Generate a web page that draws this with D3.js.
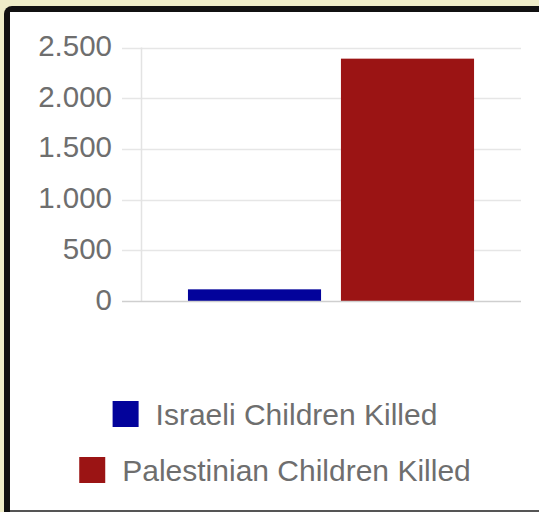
<!DOCTYPE html>
<html>
<head>
<meta charset="utf-8">
<script src="https://cdn.jsdelivr.net/npm/d3@7"></script>
<style>
  html, body { margin: 0; padding: 0; background: #efedc9; }
  svg { display: block; }
</style>
</head>
<body>
<svg id="chart" width="539" height="512"></svg>
<script>
// Data
const categories = [""];
const seriesNames = ["Israeli Children Killed", "Palestinian Children Killed"];
const seriesValues = [115, 2390];
const seriesColors = ["#03039b", "#9b1414"];
const tickValues = [0, 500, 1000, 1500, 2000, 2500];
const tickLabels = ["0", "500", "1.000", "1.500", "2.000", "2.500"];

const W = 539, H = 512;
const svg = d3.select("#chart");
const font = "'Liberation Sans', Arial, sans-serif";
const textColor = "#6e6e6e";

// Frame: yellow page, dark border, white card
svg.append("rect").attr("x", 0).attr("y", 0).attr("width", W).attr("height", H).attr("fill", "#efedc9");
svg.append("rect").attr("x", 4).attr("y", 6).attr("width", W + 20).attr("height", H + 20).attr("rx", 8).attr("fill", "#111");
svg.append("rect").attr("x", 10).attr("y", 12).attr("width", W).attr("height", H - 12).attr("fill", "#fff");
svg.append("rect").attr("x", 10).attr("y", 510).attr("width", W).attr("height", 2).attr("fill", "#555");

// Plot area
const plot = { left: 141, right: 521, top: 47.5, bottom: 301 };

const y = d3.scaleLinear().domain([0, 2500]).range([plot.bottom, plot.top]);
const x0 = d3.scaleBand().domain(categories).range([plot.left, plot.right]).paddingInner(0.141).paddingOuter(0.141);
const x1 = d3.scaleBand().domain(seriesNames).range([0, x0.bandwidth()]).paddingInner(0.13).paddingOuter(0);

// Gridlines
const grid = svg.append("g");
grid.selectAll("line").data(tickValues.filter(v => v > 0)).join("line")
  .attr("x1", 122).attr("x2", plot.right)
  .attr("y1", d => Math.round(y(d)) + 0.5).attr("y2", d => Math.round(y(d)) + 0.5)
  .attr("stroke", "#e6e6e6").attr("stroke-width", 1.5);

// Vertical axis line
svg.append("line")
  .attr("x1", plot.left + 0.5).attr("x2", plot.left + 0.5)
  .attr("y1", y(2500)).attr("y2", plot.bottom)
  .attr("stroke", "#e3e3e3").attr("stroke-width", 1.5);

// Tick labels
svg.append("g").selectAll("text").data(tickValues).join("text")
  .attr("x", 112).attr("y", d => y(d) + 8.5)
  .attr("text-anchor", "end")
  .attr("font-family", font).attr("font-size", 29.5)
  .attr("fill", textColor)
  .text((d, i) => tickLabels[i]);

// Bars
const groups = svg.append("g").selectAll("g").data(categories).join("g")
  .attr("transform", d => `translate(${x0(d)},0)`);
groups.selectAll("rect").data(seriesNames.map((n, i) => ({ name: n, value: seriesValues[i], color: seriesColors[i] })))
  .join("rect")
  .attr("x", d => x1(d.name))
  .attr("width", x1.bandwidth())
  .attr("y", d => y(d.value))
  .attr("height", d => y(0) - y(d.value))
  .attr("fill", d => d.color);

// Baseline
svg.append("line")
  .attr("x1", 122).attr("x2", plot.right)
  .attr("y1", plot.bottom + 0.5).attr("y2", plot.bottom + 0.5)
  .attr("stroke", "#cfcfcf").attr("stroke-width", 1.5);

// Legend, each entry centered
const legendCenter = 275;
const legendRows = [414, 470];
const legend = svg.append("g");
seriesNames.forEach((name, i) => {
  const g = legend.append("g");
  const t = g.append("text")
    .attr("font-family", font).attr("font-size", 30)
    .attr("fill", textColor)
    .attr("y", legendRows[i] + 11)
    .text(name);
  const tw = t.node().getComputedTextLength();
  const sw = 26, gap = 17;
  const total = sw + gap + tw;
  const start = legendCenter - total / 2;
  g.append("rect")
    .attr("x", start).attr("y", legendRows[i] - 13)
    .attr("width", sw).attr("height", sw)
    .attr("fill", seriesColors[i]);
  t.attr("x", start + sw + gap);
});
</script>
</body>
</html>
